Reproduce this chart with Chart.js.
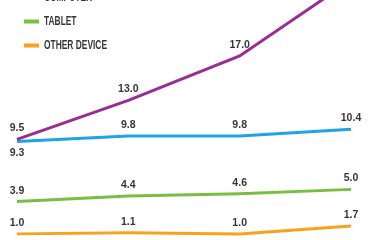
<!DOCTYPE html>
<html>
<head>
<meta charset="utf-8">
<script src="https://cdn.jsdelivr.net/npm/chart.js@4.4.1/dist/chart.umd.min.js"></script>
<style>
  html, body { margin: 0; padding: 0; background: #fff; overflow: hidden; }
  body { width: 368px; height: 240px; position: relative; }
  #chart { position: absolute; left: 0; top: -32px; }
</style>
</head>
<body>
<canvas id="chart" width="368" height="282"></canvas>
<script>
// Survey periods (category axis, not drawn)
const periods = ['2012', '2013', '2014', '2015'];

// Series labels and values
const seriesNames = ['SMARTPHONE', 'COMPUTER', 'TABLET', 'OTHER DEVICE'];
const smartphone  = [9.5, 13.0, 17.0, 23.8];
const computer    = [9.3, 9.8, 9.8, 10.4];
const tablet      = [3.9, 4.4, 4.6, 5.0];
const otherDevice = [1.0, 1.1, 1.0, 1.7];

const colors = ['#9b2c93', '#1ea3e6', '#78bf41', '#f7a21b'];
const values = [smartphone, computer, tablet, otherDevice];

const TEXT_COLOR = '#363636';

// Value labels above each point (below for the computer series' first point,
// where it meets the smartphone line)
const valueLabels = {
  id: 'valueLabels',
  afterDatasetsDraw(chart) {
    const ctx = chart.ctx;
    ctx.save();
    ctx.font = 'bold 10.5px "Liberation Sans Narrow", "Arial Narrow", sans-serif';
    ctx.fillStyle = TEXT_COLOR;
    ctx.textAlign = 'center';
    ctx.textBaseline = 'middle';
    chart.data.datasets.forEach((ds, i) => {
      const meta = chart.getDatasetMeta(i);
      meta.data.forEach((pt, j) => {
        const below = ds.labelBelow && ds.labelBelow.includes(j);
        const y = below ? pt.y + 12 : pt.y - 11;
        ctx.fillText(ds.data[j].toFixed(1), pt.x, y);
      });
    });
    ctx.restore();
  }
};

// Legend in the upper left: short line swatch plus condensed caps label
const insetLegend = {
  id: 'insetLegend',
  afterDraw(chart) {
    const ctx = chart.ctx;
    ctx.save();
    chart.data.datasets.forEach((ds, i) => {
      const cy = 5.5 + i * 24;
      ctx.fillStyle = ds.borderColor;
      ctx.fillRect(24, cy - 2, 15, 4);
      ctx.save();
      ctx.translate(44, cy);
      ctx.scale(0.7, 1);
      ctx.font = 'bold 12px "Liberation Sans Narrow", "Arial Narrow", sans-serif';
      ctx.fillStyle = TEXT_COLOR;
      ctx.textAlign = 'left';
      ctx.textBaseline = 'middle';
      ctx.fillText(ds.label, 0, 0);
      ctx.restore();
    });
    ctx.restore();
  }
};

new Chart(document.getElementById('chart'), {
  type: 'line',
  data: {
    labels: periods,
    datasets: seriesNames.map((name, i) => ({
      label: name,
      data: values[i],
      borderColor: colors[i],
      backgroundColor: colors[i],
      borderWidth: 3,
      pointRadius: 0,
      tension: 0,
      fill: false,
      labelBelow: i === 1 ? [0] : []
    }))
  },
  options: {
    responsive: false,
    animation: false,
    devicePixelRatio: 1,
    layout: { padding: { top: 10, bottom: 5, left: 17, right: 17 } },
    plugins: { legend: { display: false }, tooltip: { enabled: false } },
    scales: {
      x: { display: false },
      y: { display: false, min: 0, max: 24 }
    }
  },
  plugins: [valueLabels, insetLegend]
});
</script>
</body>
</html>
